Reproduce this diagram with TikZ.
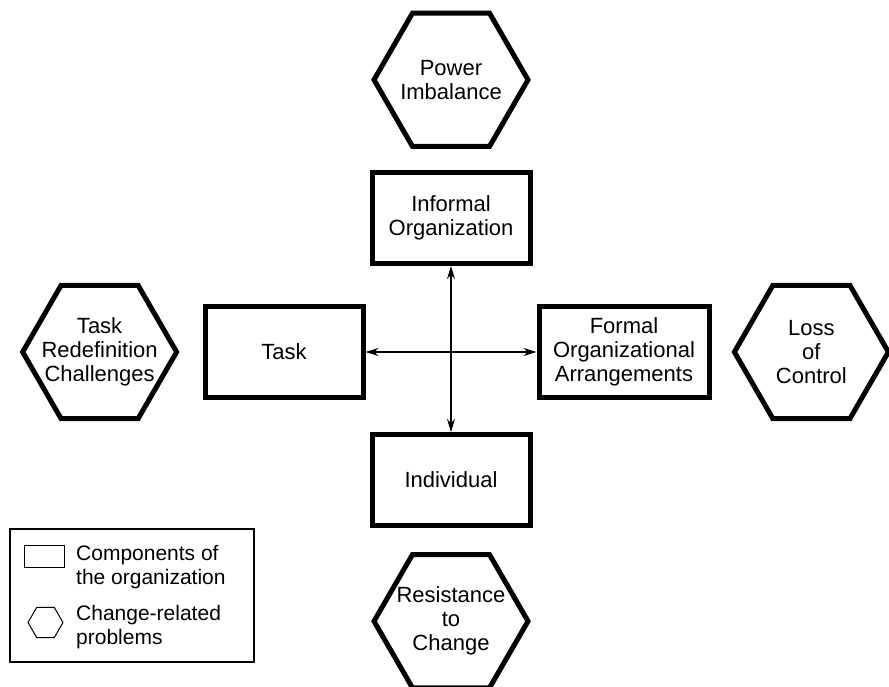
\documentclass[tikz,border=0pt]{standalone}
\usepackage{fontspec}
\setmainfont{Liberation Sans}
\usetikzlibrary{arrows.meta,positioning,shapes.geometric}

\begin{document}
\begin{tikzpicture}[
    x=1pt, y=-1pt,
    comp/.style={draw, rectangle, line width=5pt, minimum width=158pt, minimum height=91pt, align=center, font=\fontsize{22}{24}\selectfont},
    prob/.style={draw, regular polygon, regular polygon sides=6, line width=5pt, minimum size=154pt, inner sep=0pt},
    probtext/.style={align=center, inner sep=0pt, font=\fontsize{22}{24}\selectfont},
    arrow/.style={{Stealth[length=13pt,width=8pt]}-{Stealth[length=13pt,width=8pt]}, line width=1.5pt},
    legtext/.style={align=left, anchor=west, inner sep=0pt, font=\fontsize{21}{24}\selectfont}
]
    \useasboundingbox (0,0) rectangle (889,687);

    % Components of the organization
    \node[comp] (informal) at (451,218) {Informal\\Organization};
    \node[comp] (task) at (284,352) {Task};
    \node[comp, minimum width=170pt] (formal) at (624,352) {Formal\\Organizational\\Arrangements};
    \node[comp] (individual) at (451,480) {Individual};

    % Change-related problems
    \node[prob, above=21pt of informal, label={[probtext]center:Power\\Imbalance}] (power) {};
    \node[prob, left=23pt of task, label={[probtext]center:Task\\Redefinition\\Challenges}] (redef) {};
    \node[prob, right=20pt of formal, label={[probtext]center:Loss\\of\\Control}] (control) {};
    \node[prob, below=24pt of individual, label={[probtext]center:Resistance\\to\\Change}] (resist) {};

    % Connections
    \draw[arrow] (task) -- (formal);
    \draw[arrow] (informal) -- (individual);

    % Legend
    \node[draw, line width=2pt, minimum width=244pt, minimum height=133pt, inner sep=0pt] (legend) at (132,595.5) {};
    \node[draw, line width=1pt, minimum width=40pt, minimum height=22pt, inner sep=0pt] (legcomp) at (44.5,556.5) {};
    \node[legtext] (legcomptext) at (76,567.5) {Components of\\the organization};
    \node[draw, regular polygon, regular polygon sides=6, line width=1pt, minimum size=35pt, inner sep=0pt] (legprob) at (45.5,622.5) {};
    \node[legtext] (legprobtext) at (76,627) {Change-related\\problems};

\end{tikzpicture}
\end{document}
